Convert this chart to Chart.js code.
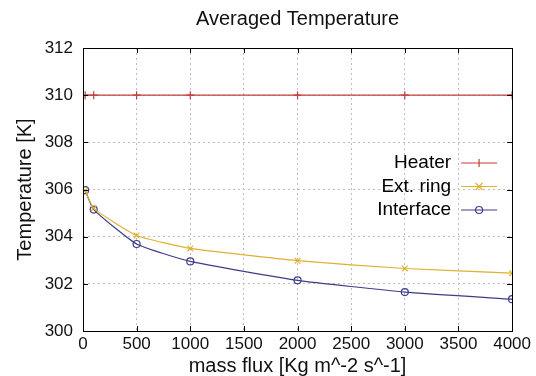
<!DOCTYPE html>
<html>
<head>
<meta charset="utf-8">
<script src="https://cdn.jsdelivr.net/npm/chart.js@4"></script>
<style>
  html, body { margin: 0; padding: 0; background: #fff; }
  #wrap { width: 536px; height: 376px; }
</style>
</head>
<body>
<div id="wrap"><canvas id="temp_chart" width="536" height="376"></canvas></div>
<script>
// mass flux values
var massFlux = [20, 100, 500, 1000, 2000, 3000, 4000];
// averaged temperatures [K]
var heater = [310, 310, 310, 310, 310, 310, 310];
var extRing = [305.95, 305.2, 304.05, 303.5, 302.98, 302.65, 302.45];
var iface = [305.97, 305.15, 303.69, 302.95, 302.15, 301.65, 301.35];
var seriesNames = ['Heater', 'Ext. ring', 'Interface'];
var xTicks = [0, 500, 1000, 1500, 2000, 2500, 3000, 3500, 4000];
var yTicks = [300, 302, 304, 306, 308, 310, 312];
var chartTitle = 'Averaged Temperature';

var FONT = '"Liberation Sans", Arial, sans-serif';

function pts(ys) {
  return massFlux.map(function (x, i) { return { x: x, y: ys[i] }; });
}

// frame, inward ticks, title over the plot and gnuplot style key
var gnuFrame = {
  id: 'gnuFrame',
  afterDatasetsDraw: function (chart) {
    var ctx = chart.ctx;
    var a = chart.chartArea;
    var xs = chart.scales.x, ys = chart.scales.y;
    ctx.save();
    ctx.strokeStyle = '#000';
    ctx.lineWidth = 1;
    ctx.beginPath();
    xTicks.forEach(function (v) {
      var px = Math.round(xs.getPixelForValue(v)) + 0.5;
      ctx.moveTo(px, a.bottom); ctx.lineTo(px, a.bottom - 5);
      ctx.moveTo(px, a.top); ctx.lineTo(px, a.top + 5);
    });
    yTicks.forEach(function (v) {
      var py = Math.round(ys.getPixelForValue(v)) + 0.5;
      ctx.moveTo(a.left, py); ctx.lineTo(a.left + 5, py);
      ctx.moveTo(a.right, py); ctx.lineTo(a.right - 5, py);
    });
    ctx.stroke();
    ctx.strokeRect(Math.round(a.left) + 0.5, Math.round(a.top) + 0.5,
      Math.round(a.right - a.left), Math.round(a.bottom - a.top));

    // title
    ctx.fillStyle = '#111';
    ctx.font = '20px ' + FONT;
    ctx.textAlign = 'center';
    ctx.textBaseline = 'middle';
    ctx.fillText(chartTitle, (a.left + a.right) / 2, 19);

    // key
    var textRight = a.right - 61;
    var y0 = a.top + 115;
    ctx.font = '19px ' + FONT;
    ctx.textAlign = 'right';
    chart.data.datasets.forEach(function (ds, i) {
      var y = y0 + i * 23.5;
      ctx.fillStyle = '#000';
      ctx.fillText(ds.label, textRight, y);
      var x1 = textRight + 10, x2 = textRight + 46, mx = (x1 + x2) / 2;
      ctx.strokeStyle = ds.borderColor;
      ctx.lineWidth = 1.2;
      ctx.beginPath();
      ctx.moveTo(x1, y); ctx.lineTo(x2, y);
      ctx.stroke();
      ctx.beginPath();
      if (ds.pointStyle === 'cross') {
        ctx.moveTo(mx, y - 4); ctx.lineTo(mx, y + 4);
      } else if (ds.pointStyle === 'crossRot') {
        ctx.moveTo(mx - 3.5, y - 3.5); ctx.lineTo(mx + 3.5, y + 3.5);
        ctx.moveTo(mx + 3.5, y - 3.5); ctx.lineTo(mx - 3.5, y + 3.5);
      } else {
        ctx.arc(mx, y, 3.5, 0, Math.PI * 2);
      }
      ctx.stroke();
    });
    ctx.restore();
  }
};

var ctx = document.getElementById('temp_chart');
new Chart(ctx, {
  type: 'line',
  plugins: [gnuFrame],
  data: {
    datasets: [{
      label: seriesNames[0],
      data: pts(heater),
      borderColor: '#c53c3c',
      pointStyle: 'cross',
      pointRadius: 4,
      pointBorderColor: '#c53c3c',
      borderWidth: 1.2,
      pointBorderWidth: 1.2
    }, {
      label: seriesNames[1],
      data: pts(extRing),
      borderColor: '#e0b030',
      pointStyle: 'crossRot',
      pointRadius: 4,
      pointBorderColor: '#e0b030',
      borderWidth: 1.2,
      pointBorderWidth: 1.2,
      tension: 0.15
    }, {
      label: seriesNames[2],
      data: pts(iface),
      borderColor: '#3e3c8a',
      pointStyle: 'circle',
      pointRadius: 3.5,
      pointBackgroundColor: 'rgba(255,255,255,0)',
      pointBorderColor: '#3e3c8a',
      borderWidth: 1.2,
      pointBorderWidth: 1.2,
      tension: 0.15
    }]
  },
  options: {
    responsive: false,
    animation: false,
    devicePixelRatio: 1,
    layout: { padding: { left: 13, right: 22, top: 48, bottom: 0 } },
    plugins: {
      legend: { display: false },
      tooltip: { enabled: false },
      title: { display: false }
    },
    scales: {
      x: {
        type: 'linear',
        min: 0,
        max: 4000,
        afterBuildTicks: function (s) { s.ticks = xTicks.map(function (v) { return { value: v }; }); },
        afterFit: function (s) { s.height = 45; },
        grid: { color: '#bdbdbd', drawTicks: false },
        border: { display: false, dash: [2, 3] },
        ticks: {
          color: '#111', padding: 5, maxRotation: 0,
          font: { family: FONT, size: 17, lineHeight: 1 },
          callback: function (v) { return String(v); }
        },
        title: {
          display: true,
          text: 'mass flux [Kg m^-2 s^-1]',
          color: '#111',
          padding: { top: -2, bottom: 0 },
          font: { family: FONT, size: 20, lineHeight: 1 }
        }
      },
      y: {
        type: 'linear',
        min: 300,
        max: 312,
        afterBuildTicks: function (s) { s.ticks = yTicks.map(function (v) { return { value: v }; }); },
        afterFit: function (s) { s.width = 70; },
        grid: { color: '#bdbdbd', drawTicks: false },
        border: { display: false, dash: [2, 3] },
        ticks: {
          color: '#111', padding: 10,
          font: { family: FONT, size: 17 },
          callback: function (v) { return String(v); }
        },
        title: {
          display: true,
          text: 'Temperature [K]',
          color: '#111',
          padding: { top: 0, bottom: 0 },
          font: { family: FONT, size: 20 }
        }
      }
    }
  }
});
</script>
</body>
</html>
